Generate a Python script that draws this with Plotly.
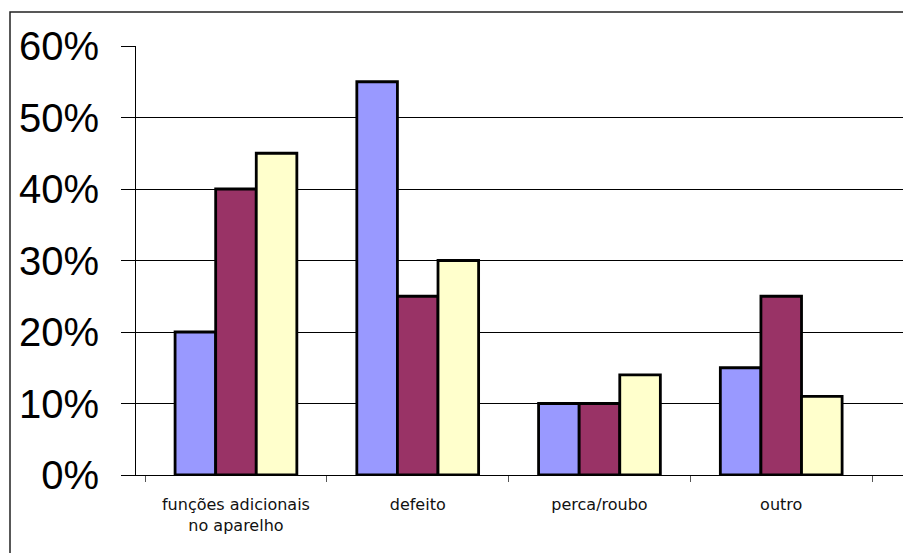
import plotly.graph_objects as go

# Motivos de troca do aparelho, três séries por categoria
categorias = ["funções adicionais<br>no aparelho", "defeito", "perca/roubo", "outro"]
serie_1 = [0.20, 0.55, 0.10, 0.15]
serie_2 = [0.40, 0.25, 0.10, 0.25]
serie_3 = [0.45, 0.30, 0.14, 0.11]
nomes = ["Série 1", "Série 2", "Série 3"]
cores = ["#9999FF", "#993366", "#FFFFCC"]

W, H = 903, 553
ML, MR, MT, MB = 136, 0, 46, 78

fig = go.Figure()
for nome, valores, cor in zip(nomes, [serie_1, serie_2, serie_3], cores):
    fig.add_trace(go.Bar(
        x=categorias, y=valores, name=nome,
        marker=dict(color=cor, line=dict(color="black", width=2.8)),
    ))

plot_w = W - ML - MR
plot_h = H - MT - MB

# moldura externa do gráfico
fig.add_shape(
    type="rect", xref="paper", yref="paper",
    x0=(10 - ML) / plot_w, x1=1.2,
    y0=-0.5, y1=(H - MB - 12) / plot_h,
    line=dict(color="#222222", width=1.5), fillcolor="rgba(0,0,0,0)",
    layer="below",
)

fig.update_layout(
    width=W, height=H,
    margin=dict(l=ML, r=MR, t=MT, b=MB, pad=0),
    paper_bgcolor="white", plot_bgcolor="white",
    barmode="group", bargap=0.33, bargroupgap=0,
    showlegend=False,
    font=dict(family="Liberation Sans, Arial, sans-serif", color="black"),
    xaxis=dict(
        type="category", range=[-0.55, 3.67],
        showline=True, linecolor="black", linewidth=1,
        ticks="outside", ticklen=6, tickcolor="#555555", tickson="boundaries",
        tickfont=dict(size=16, family="DejaVu Sans, sans-serif", color="#111111"),
        ticklabelstandoff=15,
        showgrid=False, zeroline=False,
    ),
    yaxis=dict(
        range=[0, 0.6], dtick=0.1, tickformat=".0%",
        showline=True, linecolor="black", linewidth=1,
        ticks="outside", ticklen=14, tickcolor="black",
        showgrid=True, gridcolor="black", gridwidth=1,
        zeroline=False,
        tickfont=dict(size=40, family="Liberation Sans, Arial, sans-serif"),
        ticklabelstandoff=14,
    ),
)

fig.write_html("out.html")
